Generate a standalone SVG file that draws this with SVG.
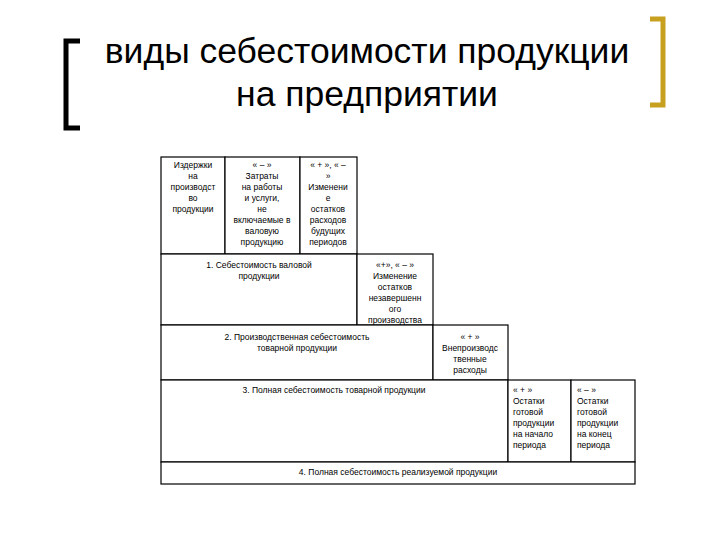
<svg xmlns="http://www.w3.org/2000/svg" width="720" height="540" viewBox="0 0 720 540">
<style>
.b{fill:#fff;stroke:#000;stroke-width:1.2}
.t{font-family:"Liberation Sans",Arial,sans-serif;font-size:8.5px;fill:#000;text-anchor:middle}
.h{font-family:"Liberation Sans",Arial,sans-serif;font-size:35.5px;fill:#000;text-anchor:middle}
</style>
<rect width="720" height="540" fill="#fff"/>
<g id="title">
<path d="M80,41 H66 V128 H80" fill="none" stroke="#000" stroke-width="5"/>
<path d="M650,19 H663 V105 H650" fill="none" stroke="#c8a020" stroke-width="5"/>
<text class="h" x="367" y="63">виды себестоимости продукции</text>
<text class="h" x="367" y="106">на предприятии</text>
</g>
<g id="A"><rect class="b" x="161" y="157" width="64" height="97"/>
<text class="t" y="168"><tspan x="193">Издержки</tspan><tspan x="193" dy="11">на</tspan><tspan x="193" dy="11">производст</tspan><tspan x="193" dy="11">во</tspan><tspan x="193" dy="11">продукции</tspan></text></g>
<g id="B"><rect class="b" x="225" y="157" width="75" height="97"/>
<text class="t" y="168"><tspan x="262">« – »</tspan><tspan x="262" dy="11">Затраты</tspan><tspan x="262" dy="11">на работы</tspan><tspan x="262" dy="11">и услуги,</tspan><tspan x="262" dy="11">не</tspan><tspan x="262" dy="11">включаемые в</tspan><tspan x="262" dy="11">валовую</tspan><tspan x="262" dy="11">продукцию</tspan></text></g>
<g id="C"><rect class="b" x="300" y="157" width="57" height="97"/>
<text class="t" y="168"><tspan x="328">« + », « –</tspan><tspan x="328" dy="11">»</tspan><tspan x="328" dy="11">Изменени</tspan><tspan x="328" dy="11">е</tspan><tspan x="328" dy="11">остатков</tspan><tspan x="328" dy="11">расходов</tspan><tspan x="328" dy="11">будущих</tspan><tspan x="328" dy="11">периодов</tspan></text></g>
<g id="R1"><rect class="b" x="161" y="254" width="196" height="71"/>
<text class="t" y="268"><tspan x="259">1. Себестоимость валовой</tspan><tspan x="259" dy="11">продукции</tspan></text></g>
<g id="D"><rect class="b" x="357" y="254" width="76" height="71"/>
<text class="t" y="268"><tspan x="395">«+», « – »</tspan><tspan x="395" dy="11">Изменение</tspan><tspan x="395" dy="11">остатков</tspan><tspan x="395" dy="11">незавершенн</tspan><tspan x="395" dy="11">ого</tspan><tspan x="395" dy="11">производства</tspan></text></g>
<g id="R2"><rect class="b" x="161" y="325" width="272" height="55"/>
<text class="t" y="340"><tspan x="297">2. Производственная себестоимость</tspan><tspan x="297" dy="11">товарной продукции</tspan></text></g>
<g id="E"><rect class="b" x="433" y="325" width="75" height="55"/>
<text class="t" y="340"><tspan x="470">« + »</tspan><tspan x="470" dy="11">Внепроизводс</tspan><tspan x="470" dy="11">твенные</tspan><tspan x="470" dy="11">расходы</tspan></text></g>
<g id="R3"><rect class="b" x="161" y="380" width="347" height="82"/>
<text class="t" x="334" y="393">3. Полная себестоимость товарной продукции</text></g>
<g id="F"><rect class="b" x="508" y="380" width="63" height="82"/>
<text class="t" y="393" style="text-anchor:start"><tspan x="513">   « + »</tspan><tspan x="513" dy="11">Остатки</tspan><tspan x="513" dy="11">готовой</tspan><tspan x="513" dy="11">продукции</tspan><tspan x="513" dy="11">на начало</tspan><tspan x="513" dy="11">периода</tspan></text></g>
<g id="G"><rect class="b" x="571" y="380" width="64" height="82"/>
<text class="t" y="393" style="text-anchor:start"><tspan x="577">   « – »</tspan><tspan x="577" dy="11">Остатки</tspan><tspan x="577" dy="11">готовой</tspan><tspan x="577" dy="11">продукции</tspan><tspan x="577" dy="11">на конец</tspan><tspan x="577" dy="11">периода</tspan></text></g>
<g id="R4"><rect class="b" x="161" y="462" width="474" height="22"/>
<text class="t" x="398" y="475">4. Полная себестоимость реализуемой продукции</text></g>
<g id="connectors"></g>
</svg>
